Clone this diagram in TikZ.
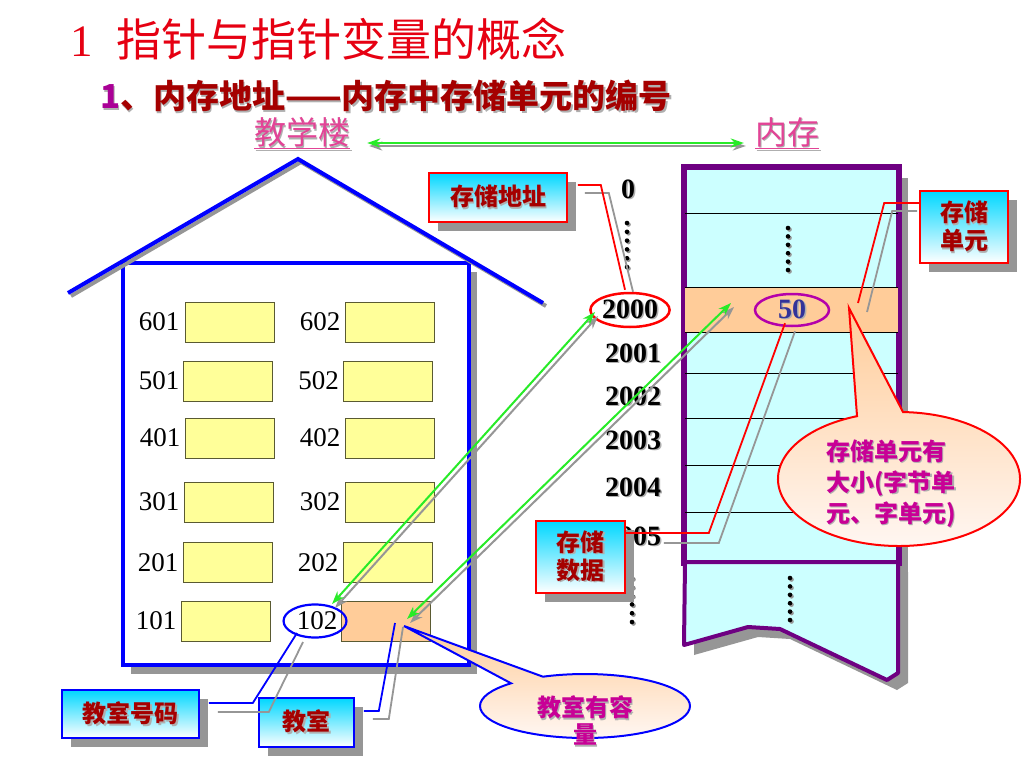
\documentclass[tikz,border=0pt]{standalone}
\usepackage{fontspec}
\setmainfont{Liberation Serif}
\newfontfamily\cjk{Noto Sans CJK SC}
\usetikzlibrary{shadows,arrows.meta,shapes.geometric,calc}
\definecolor{titlered}{RGB}{230,0,18}
\definecolor{darkred}{RGB}{165,0,0}
\definecolor{subpurple}{RGB}{170,0,150}
\definecolor{pinkc}{RGB}{226,68,150}
\definecolor{magc}{RGB}{200,0,150}
\definecolor{ellmag}{RGB}{180,0,170}
\definecolor{memcyan}{RGB}{204,255,255}
\definecolor{peach}{RGB}{255,204,153}
\definecolor{roomyellow}{RGB}{255,255,153}
\definecolor{roomline}{RGB}{90,90,50}
\definecolor{housblue}{RGB}{0,0,255}
\definecolor{memborder}{RGB}{110,0,130}
\definecolor{greenc}{RGB}{40,235,40}
\definecolor{shadowgray}{RGB}{150,150,150}
\definecolor{textshadow}{RGB}{175,175,175}
\definecolor{cyant}{RGB}{0,215,255}
\definecolor{navyc}{RGB}{51,51,153}
\definecolor{bubwhite}{RGB}{255,248,245}
\newcommand\shd[2][textshadow]{\makebox[0pt][l]{\hspace{1.6pt}\raisebox{-1.6pt}{\textcolor{#1}{#2}}}#2}
\tikzset{
  cbox/.style={shade, top color=cyant, bottom color=white, line width=1.6pt, inner sep=0pt, align=center,
    text=darkred, font=\cjk\bfseries\fontsize{24}{28}\selectfont,
    drop shadow={shadow xshift=9pt, shadow yshift=-9pt, fill=shadowgray, opacity=1}},
  ybox/.style={draw=roomline, fill=roomyellow, line width=0.9pt, minimum width=89pt, minimum height=40pt, inner sep=0pt},
  rlabel/.style={anchor=east, inner sep=0pt, font=\fontsize{27}{30}\selectfont},
  addrnum/.style={inner sep=0pt, font=\bfseries\fontsize{28}{30}\selectfont},
  garrow/.style={{Stealth[length=13pt,width=9pt]}-{Stealth[length=13pt,width=9pt]}, greenc, line width=2pt},
  gshadow/.style={{Stealth[length=13pt,width=9pt]}-{Stealth[length=13pt,width=9pt]}, shadowgray, line width=2pt},
  bubtext/.style={inner sep=0pt, text=magc},
  conn/.style={line width=1.8pt},
  dotshadow/.style={fill=shadowgray},
}
\begin{document}
\begin{tikzpicture}[x=1pt,y=-1pt]
\useasboundingbox (0,0) rectangle (1024,768);
\fill[white] (0,0) rectangle (1024,768);

% titles
\node[anchor=west, text=titlered, inner sep=0pt, font=\fontsize{45}{50}\selectfont] (title) at (70,39)
  {1\hspace{24pt}{\cjk 指针与指针变量的概念}};
\node[anchor=west, inner sep=0pt, font=\cjk\bfseries\fontsize{33}{36}\selectfont, text=darkred] (sub) at (100,97)
  {\makebox[0pt][l]{\hspace{1.6pt}\raisebox{-1.6pt}{\textcolor{textshadow}{1、内存地址——内存中存储单元的编号}}}\textcolor{subpurple}{1}、内存地址——内存中存储单元的编号};
\node[inner sep=0pt, text=pinkc, font=\cjk\fontsize{32}{34}\selectfont] (jxl) at (302,134) {\shd{\underline{教学楼}}};
\node[inner sep=0pt, text=pinkc, font=\cjk\fontsize{32}{34}\selectfont] (nc) at (787,134) {\shd{\underline{内存}}};
\draw[gshadow, line width=2.5pt] ([shift={(19,12)}]jxl.east) -- ([shift={(-9,12)}]nc.west);
\draw[garrow, line width=2.5pt] ([shift={(17,9)}]jxl.east) -- ([shift={(-11,9)}]nc.west);

% house
\node[draw=housblue, line width=4pt, fill=white, minimum width=346pt, minimum height=402pt, inner sep=0pt,
  drop shadow={shadow xshift=8pt, shadow yshift=-9pt, fill=shadowgray, opacity=1}] (house) at (296,464) {};
\draw[shadowgray, line width=4pt] (71,296) -- (301,162) -- (546,306);
\draw[housblue, line width=4pt] (68,293) -- (298,159) -- (543,303);

% rooms
\node[ybox] (r601) at (229.5,322) {}; \node[ybox] (r602) at (389.5,322) {};
\node[ybox] (r501) at (227.5,381) {}; \node[ybox] (r502) at (388,381) {};
\node[ybox] (r401) at (229.5,438) {}; \node[ybox] (r402) at (389.5,438) {};
\node[ybox] (r301) at (228.5,502) {}; \node[ybox] (r302) at (389.5,502) {};
\node[ybox] (r201) at (227.5,562.5) {}; \node[ybox] (r202) at (387.5,562.5) {};
\node[ybox] (r101) at (225.5,621) {}; \node[ybox, fill=peach] (r102) at (386,621) {};
\node[rlabel] (l601) at ([xshift=-5pt]r601.west) {601}; \node[rlabel] (l602) at ([xshift=-4pt]r602.west) {602};
\node[rlabel] (l501) at ([xshift=-3pt]r501.west) {501}; \node[rlabel] (l502) at ([xshift=-4pt]r502.west) {502};
\node[rlabel] (l401) at ([xshift=-4pt]r401.west) {401}; \node[rlabel] (l402) at ([xshift=-4pt]r402.west) {402};
\node[rlabel] (l301) at ([xshift=-4pt]r301.west) {301}; \node[rlabel] (l302) at ([xshift=-4pt]r302.west) {302};
\node[rlabel] (l201) at ([xshift=-4pt]r201.west) {201}; \node[rlabel] (l202) at ([xshift=-4pt]r202.west) {202};
\node[rlabel] (l101) at ([xshift=-4pt]r101.west) {101};
\node[ellipse, draw=housblue, line width=2.2pt, minimum width=49pt, minimum height=33pt, inner sep=0pt,
  font=\fontsize{27}{30}\selectfont] (e102) at (315,621) {\hspace{4pt}102};

% memory
\fill[shadowgray] (695,178) rectangle (908,572);
\fill[shadowgray] (695,572) -- (908,572) -- (908,683) -- (897,690) -- (790,639) -- (758,637) -- (694,655) -- cycle;
\node[draw=memborder, fill=memcyan, line width=4pt, minimum width=213pt, minimum height=394pt, inner sep=0pt] (mem) at (791.5,365) {};
\fill[peach] (685,287) rectangle (898,332);
\foreach \yy in {213,287,332,373,418,465,512} { \draw[line width=0.9pt] (685,\yy) -- (898,\yy); }
\draw[memborder, line width=4pt] (mem.north west) rectangle (mem.south east);
\draw[memborder, line width=4pt, fill=memcyan, line join=round] (685,562) -- (898,562) -- (898,673) -- (887,680) -- (780,629) -- (748,627) -- (684,645) -- cycle;
\coordinate (cellin) at (731,303);
\coordinate (cellpt) at (858,303);
\node[ellipse, draw=ellmag, line width=2.5pt, minimum width=74pt, minimum height=32pt, inner sep=0pt,
  addrnum, text=navyc] (fifty) at (792,310) {\shd{50}};

% dots
\foreach \i in {0,...,5} {
  \fill[dotshadow] ({628.5},{224.5+\i*8.8}) circle (2.3);
  \fill ({627},{223+\i*8.8}) circle (2.3);
  \fill[dotshadow] ({789.5},{229.5+\i*8.4}) circle (2.3);
  \fill ({788},{228+\i*8.4}) circle (2.3);
  \fill[dotshadow] ({791.5},{579.5+\i*8.4}) circle (2.3);
  \fill ({790},{578+\i*8.4}) circle (2.3);
  \fill[dotshadow] ({633.5},{579.5+\i*8.8}) circle (2.3);
  \fill ({632},{578+\i*8.8}) circle (2.3);
}

% addresses
\node[addrnum] (a0) at (628,190) {\shd{0}};
\node[ellipse, draw=red, line width=2.5pt, minimum width=72pt, minimum height=34pt, inner sep=0pt, addrnum] (e2000) at (630,310) {\shd{2000}};
\node[addrnum] (a2001) at (633,354) {\shd{2001}};
\node[addrnum] (a2002) at (633,397) {\shd{2002}};
\node[addrnum] (a2003) at (633,441) {\shd{2003}};
\node[addrnum] (a2004) at (633,488) {\shd{2004}};
\node[addrnum] (a2005) at (633,537) {\shd{2005}};

% callout boxes
\node[cbox, draw=red, minimum width=138pt, minimum height=49pt] (addr) at (498,197.5) {\shd{存储地址}};
\node[cbox, draw=red, minimum width=88pt, minimum height=72pt] (unit) at (964,227) {\shd{存储}\\\shd{单元}};
\node[cbox, draw=red, minimum width=89pt, minimum height=72pt] (data) at (580.5,557) {\shd{存储}\\\shd{数据}};
\node[cbox, draw=housblue, minimum width=137pt, minimum height=48pt] (rnum) at (130.5,714) {\shd{教室号码}};
\node[cbox, draw=housblue, minimum width=95pt, minimum height=49pt] (room) at (306.5,722.5) {\shd{教室}};

% speech bubbles
\coordinate (b1tip) at (404,626);
\coordinate (b1c) at (585,706);
\coordinate (b2tip) at (849,308);
\coordinate (b2c) at (899,479);
\begin{scope}[shift={(8,8)}]
  \fill[shadowgray] (b1tip) -- ([shift={(225.2:105 and 32)}]b1c) arc[start angle=225.2, end angle=-113.6, x radius=105, y radius=32] -- cycle;
  \fill[shadowgray] (b2tip) -- ([shift={(-110.3:121 and 67)}]b2c) arc[start angle=-110.3, end angle=-448.1, x radius=121, y radius=67] -- cycle;
\end{scope}
\draw[housblue, line width=2pt, top color=peach, bottom color=bubwhite]
  (b1tip) -- ([shift={(225.2:105 and 32)}]b1c) arc[start angle=225.2, end angle=-113.6, x radius=105, y radius=32] -- cycle;
\draw[red, line width=2pt, top color=peach, bottom color=bubwhite]
  (b2tip) -- ([shift={(-110.3:121 and 67)}]b2c) arc[start angle=-110.3, end angle=-448.1, x radius=121, y radius=67] -- cycle;
\node[bubtext, align=center, font=\cjk\bfseries\fontsize{24}{27}\selectfont] (b1t) at (585,721.5) {\shd{教室有容}\\\shd{量}};
\node[bubtext, align=left, anchor=west, font=\cjk\bfseries\fontsize{24}{31}\selectfont] (b2t) at (826,484) {\shd{存储单元有}\\\shd{大小(字节单}\\\shd{元、字单元)}};

% connectors (shadow first)
\draw[conn, shadowgray] ([shift={(17,-4.5)}]addr.east) -- ++(24,0) -- ([shift={(3,0)}]e2000.north);
\draw[conn, red] ([shift={(10,-12.5)}]addr.east) -- ++(23,0) -- ([shift={(-5,-2)}]e2000.north);
\draw[conn, shadowgray] ([shift={(-2,-16)}]unit.west) -- ++(-25,0) -- ([shift={(9,9)}]cellpt);
\draw[conn, red] ([shift={(0,-24)}]unit.west) -- ++(-35,0) -- (cellpt);
\draw[conn, shadowgray] ([shift={(38,-14)}]data.east) -- ++(55,0) -- ([shift={(3,4)}]fifty.south);
\draw[conn, red] ([shift={(0,-24)}]data.east) -- ++(83,0) -- ([shift={(-7,-4)}]fifty.south);
\draw[conn, shadowgray] ([shift={(18,-2)}]rnum.east) -- ++(51,0) -- ([shift={(-12,21)}]e102.center);
\draw[conn, housblue] ([shift={(9,-11)}]rnum.east) -- ++(44,0) -- ([shift={(-18,12)}]e102.center);
\draw[conn, shadowgray] ([shift={(18,-3.5)}]room.east) -- ++(16,0) -- ([shift={(17,6)}]r102.center);
\draw[conn, housblue] ([shift={(9,-11.5)}]room.east) -- ++(15,0) -- ([shift={(9,2)}]r102.center);

% green arrows
\draw[gshadow] ([shift={(-32,6)}]e2000.center) -- ([shift={(20,-13)}]e102.center);
\draw[garrow] ([shift={(-35,2)}]e2000.center) -- ([shift={(17,-17)}]e102.center);
\draw[gshadow] ([shift={(3,4)}]cellin) -- ([shift={(24,2)}]r102.center);
\draw[garrow] (cellin) -- ([shift={(21,-2)}]r102.center);
\end{tikzpicture}
\end{document}
